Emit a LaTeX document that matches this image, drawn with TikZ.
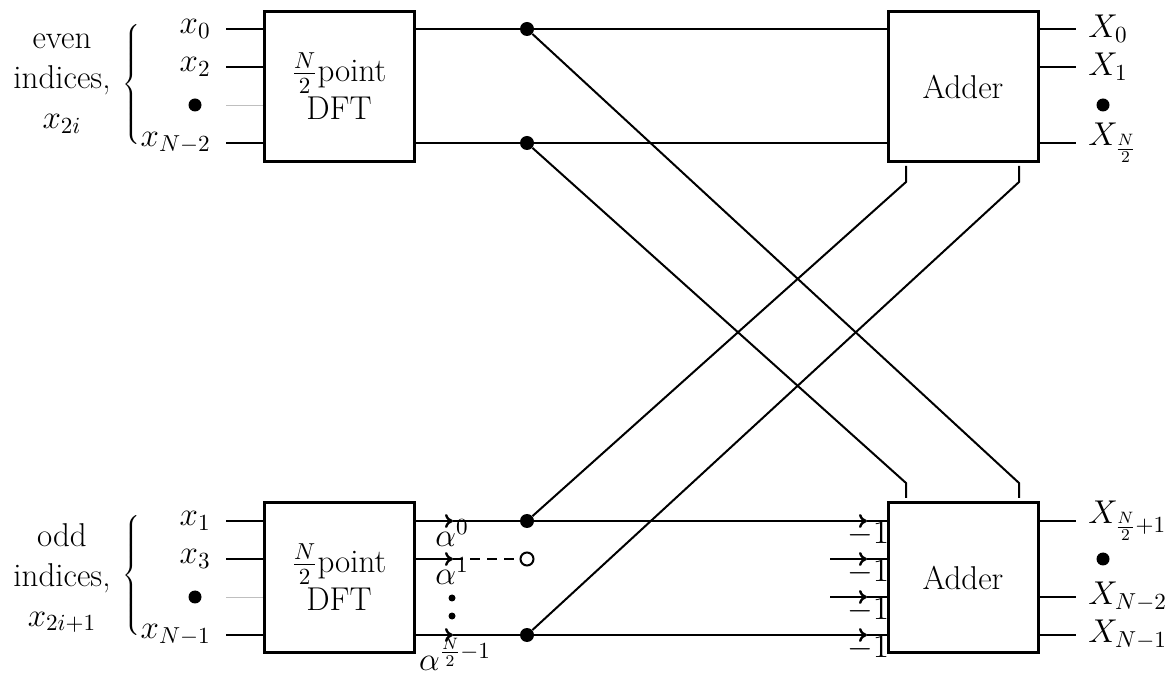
\RequirePackage{fix-cm}
\documentclass[tikz,border=0pt]{standalone}
\usetikzlibrary{arrows.meta}
\begin{document}
\begin{tikzpicture}[x=0.5pt,y=-0.5pt,
  font=\fontsize{16.5}{19}\selectfont,
  box/.style={draw,line width=1.5pt,minimum width=75pt,minimum height=75pt,inner sep=0pt,align=center},
  wire/.style={line width=1.2pt},
  diag/.style={line width=1pt},
  jdot/.style={circle,fill,inner sep=0pt,minimum size=7pt},
  bigdot/.style={circle,fill,inner sep=0pt,minimum size=6.5pt},
  smalldot/.style={circle,fill,inner sep=0pt,minimum size=3.5pt},
  odot/.style={circle,draw,line width=1pt,fill=white,inner sep=0pt,minimum size=6.5pt},
  arr/.style={wire,-{To[length=4pt,width=7pt]}},
  thinline/.style={gray!50,line width=0.4pt},
  inlab/.style={anchor=east,inner sep=2pt},
  outlab/.style={anchor=west,inner sep=2pt},
  sidelab/.style={align=center,inner sep=0pt,font=\fontsize{16.5}{20}\selectfont}
]
\useasboundingbox (0,0) rectangle (1169,679);

% boxes
\node[box] (dftA) at (339,86.5) {$\frac{N}{2}$point\\DFT};
\node[box] (dftB) at (339,577.5) {$\frac{N}{2}$point\\DFT};
\node[box] (addA) at (963,86.5) {Adder};
\node[box] (addB) at (963,577.5) {Adder};

% side labels and braces
\node[sidelab] (evenlab) at (62,84) {even\\indices,\\$x_{2i}$};
\node[sidelab] (oddlab) at (62,578) {odd\\indices,\\$x_{2i+1}$};
\node[inner sep=0pt] (braceA) at (133,86) {$\left\{\vrule height 27pt depth 27pt width 0pt\right.$};
\node[inner sep=0pt] (braceB) at (133,577) {$\left\{\vrule height 27pt depth 27pt width 0pt\right.$};

% input labels
\node[inlab] (xa0) at (215,29) {$x_0$};
\node[inlab] (xa2) at (215,67) {$x_2$};
\node[bigdot] (xadot) at (195,105) {};
\node[inlab] (xaN) at (215,143) {$x_{N-2}$};
\node[inlab] (xb1) at (215,521) {$x_1$};
\node[inlab] (xb3) at (215,559) {$x_3$};
\node[bigdot] (xbdot) at (195,597) {};
\node[inlab] (xbN) at (215,635) {$x_{N-1}$};

% input wires
\foreach \n/\r in {xa0/29,xa2/67,xaN/143}
  \draw[wire] (226,\r) -- (dftA.west |- \n);
\draw[thinline] (226,105) -- (dftA.west |- xadot);
\foreach \n/\r in {xb1/521,xb3/559,xbN/635}
  \draw[wire] (226,\r) -- (dftB.west |- \n);
\draw[thinline] (226,597) -- (dftB.west |- xbdot);

% junctions
\node[jdot] (jA1) at (527,29) {};
\node[jdot] (jA2) at (527,143) {};
\node[jdot] (jB1) at (527,521) {};
\node[odot] (jB2) at (527,559) {};
\node[jdot] (jB3) at (527,635) {};

% top DFT outputs to top adder
\draw[wire] (dftA.east |- jA1) -- (jA1) -- (addA.west |- jA1);
\draw[wire] (dftA.east |- jA2) -- (jA2) -- (addA.west |- jA2);

% bottom DFT outputs with twiddle arrows
\coordinate (tw1) at (453,521);
\coordinate (tw2) at (453,559);
\coordinate (tw3) at (453,635);
\draw[arr] (dftB.east |- tw1) -- (tw1);
\draw[arr] (dftB.east |- tw2) -- (tw2);
\draw[arr] (dftB.east |- tw3) -- (tw3);
\draw[wire] (tw1) -- (jB1);
\draw[wire,dash pattern=on 5pt off 3.5pt] (tw2) -- (jB2.west);
\draw[wire] (tw3) -- (jB3);
\node[inner sep=0pt] (al0) at (452,533) {$\alpha^0$};
\node[inner sep=0pt] (al1) at (452,571) {$\alpha^1$};
\node[inner sep=0pt] (al2) at (455,654) {$\alpha^{\frac{N}{2}-1}$};
\node[smalldot] (vd1) at (452,598) {};
\node[smalldot] (vd2) at (452,616) {};

% bottom adder inputs
\foreach \i/\r in {1/521,2/559,3/597,4/635}{
  \coordinate (ms\i) at (830,\r);
  \coordinate (mt\i) at (867,\r);
  \draw[arr] (ms\i) -- (mt\i);
  \draw[wire] (mt\i) -- (addB.west |- mt\i);
  \node[inner sep=0pt] (m\i) at (868,\r+13) {$-1$};
}
\draw[wire] (jB1) -- (ms1);
\draw[wire] (jB3) -- (ms4);

% cross connections
\coordinate (bA1) at (906,483);
\coordinate (sA1) at (906,498);
\coordinate (bA2) at (1019,483);
\coordinate (sA2) at (1019,498);
\coordinate (bB1) at (906,182);
\coordinate (sB1) at (906,166);
\coordinate (bB2) at (1019,182);
\coordinate (sB2) at (1019,166);
\draw[diag] (jA1) -- (bA2) -- (sA2);
\draw[diag] (jA2) -- (bA1) -- (sA1);
\draw[diag] (jB1) -- (bB1) -- (sB1);
\draw[diag] (jB3) -- (bB2) -- (sB2);

% outputs
\node[outlab] (X0) at (1084,29) {$X_0$};
\node[outlab] (X1) at (1084,67) {$X_1$};
\node[bigdot] (Xdot1) at (1103,105) {};
\node[outlab] (XN2) at (1084,143) {$X_{\frac{N}{2}}$};
\node[outlab] (XN21) at (1084,521) {$X_{\frac{N}{2}+1}$};
\node[bigdot] (Xdot2) at (1103,559) {};
\node[outlab] (XNm2) at (1084,597) {$X_{N-2}$};
\node[outlab] (XNm1) at (1084,635) {$X_{N-1}$};
\foreach \n in {X0,X1,XN2}
  \draw[wire] (addA.east |- \n) -- (1076,0 |- \n);
\foreach \n in {XN21,XNm2,XNm1}
  \draw[wire] (addB.east |- \n) -- (1076,0 |- \n);
\end{tikzpicture}
\end{document}
